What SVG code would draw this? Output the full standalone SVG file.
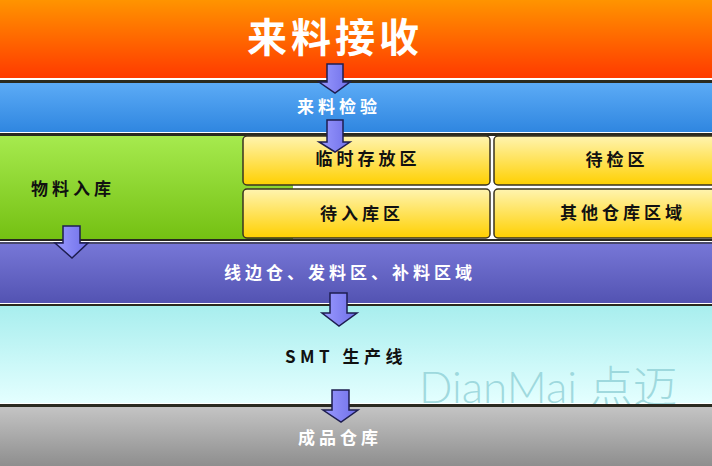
<svg xmlns="http://www.w3.org/2000/svg" width="712" height="466" viewBox="0 0 712 466">
<defs>
<linearGradient id="gOrange" x1="0" y1="0" x2="0" y2="1"><stop offset="0" stop-color="#ff9400"/><stop offset="1" stop-color="#ff3a00"/></linearGradient>
<linearGradient id="gBlue" x1="0" y1="0" x2="0" y2="1"><stop offset="0" stop-color="#5cabf6"/><stop offset="1" stop-color="#2f86e0"/></linearGradient>
<linearGradient id="gGreen" x1="0" y1="0" x2="0" y2="1"><stop offset="0" stop-color="#a6ea4e"/><stop offset="1" stop-color="#74c012"/></linearGradient>
<linearGradient id="gYellow" x1="0" y1="0" x2="0" y2="1"><stop offset="0" stop-color="#fff4b0"/><stop offset="1" stop-color="#ffd000"/></linearGradient>
<linearGradient id="gPurple" x1="0" y1="0" x2="0" y2="1"><stop offset="0" stop-color="#7878d8"/><stop offset="1" stop-color="#5353b2"/></linearGradient>
<linearGradient id="gCyan" x1="0" y1="0" x2="0" y2="1"><stop offset="0" stop-color="#a8eeee"/><stop offset="1" stop-color="#e4ffff"/></linearGradient>
<linearGradient id="gGray" x1="0" y1="0" x2="0" y2="1"><stop offset="0" stop-color="#c4c4c4"/><stop offset="1" stop-color="#8e8e8e"/></linearGradient>
<linearGradient id="gArrow" x1="0" y1="0" x2="1" y2="0"><stop offset="0" stop-color="#9a9aff"/><stop offset="1" stop-color="#6f6fe8"/></linearGradient>
</defs>
<style>
.band{stroke:none}
.edge{fill:#2a2a20}
.ybox{fill:url(#gYellow);stroke:#3a3320;stroke-width:1.5}
.arrow{fill:url(#gArrow);stroke:#1e1e50;stroke-width:1.5;stroke-linejoin:miter}
.t{font-family:"Noto Sans CJK SC","Noto Sans",sans-serif;font-weight:bold;text-anchor:middle}
.w{fill:#ffffff}
.k{fill:#111111}
.s17{font-size:17px;letter-spacing:4px}
</style>
<rect width="712" height="466" fill="#ffffff"/>

<g id="band-receive">
<rect class="band" x="0" y="0" width="712" height="78" fill="url(#gOrange)"/>
<text class="t w" x="335" y="52" font-size="40" letter-spacing="4">来料接收</text>
</g>

<g id="band-inspect">
<rect class="edge" x="0" y="80" width="712" height="3"/>
<rect class="band" x="0" y="83" width="712" height="49" fill="url(#gBlue)"/>
<text class="t w s17" x="339" y="113">来料检验</text>
</g>

<g id="band-storage">
<rect class="edge" x="0" y="133" width="712" height="3"/>
<rect class="band" x="0" y="136" width="293" height="104" fill="url(#gGreen)"/>
<rect class="edge" x="0" y="239" width="712" height="2"/>
<text class="t k s17" x="73" y="195">物料入库</text>
</g>

<g id="box-temp">
<rect class="ybox" x="243" y="136" width="247" height="49" rx="4"/>
<text class="t k s17" x="368" y="165">临时存放区</text>
</g>
<g id="box-pending-inspect">
<rect class="ybox" x="494" y="136" width="222" height="49" rx="4"/>
<text class="t k s17" x="617" y="166">待检区</text>
</g>
<g id="box-pending-store">
<rect class="ybox" x="243" y="189" width="247" height="49" rx="4"/>
<text class="t k s17" x="362" y="220">待入库区</text>
</g>
<g id="box-other">
<rect class="ybox" x="494" y="189" width="222" height="49" rx="4"/>
<text class="t k s17" x="623" y="219">其他仓库区域</text>
</g>

<g id="band-line-side">
<rect class="band" x="0" y="242" width="712" height="61" fill="url(#gPurple)"/>
<rect class="edge" x="0" y="242" width="712" height="2" opacity="0.6"/>
<text class="t w s17" x="350" y="279">线边仓、发料区、补料区域</text>
</g>

<g id="band-smt">
<rect class="edge" x="0" y="304" width="712" height="2"/>
<rect class="band" x="0" y="306" width="712" height="97" fill="url(#gCyan)"/>
<text class="t k" x="346" y="363" font-size="17" letter-spacing="4.5">SMT 生产线</text>
<text x="419" y="403" font-family="Lato,'Noto Sans CJK SC',sans-serif" font-weight="300" font-size="44" fill="#8fd0d6" fill-opacity="0.8">DianMai 点迈</text>
</g>

<g id="band-finished">
<rect class="edge" x="0" y="404" width="712" height="3"/>
<rect class="band" x="0" y="407" width="712" height="59" fill="url(#gGray)"/>
<text class="t w s17" x="340" y="444">成品仓库</text>
</g>

<g id="connectors">
<path class="arrow" d="M327,64 H343 V82 H350 L335,93 L319,82 H327 Z"/>
<path class="arrow" d="M327,120 H343 V142 H350 L335,152 L319,142 H327 Z"/>
<path class="arrow" d="M63,226 H80 V243 H88 L72,258 L55,243 H63 Z"/>
<path class="arrow" d="M330,293 H347 V313 H357 L339,326 L322,313 H330 Z"/>
<path class="arrow" d="M332,390 H349 V410 H358 L341,422 L323,410 H332 Z"/>
</g>
</svg>
